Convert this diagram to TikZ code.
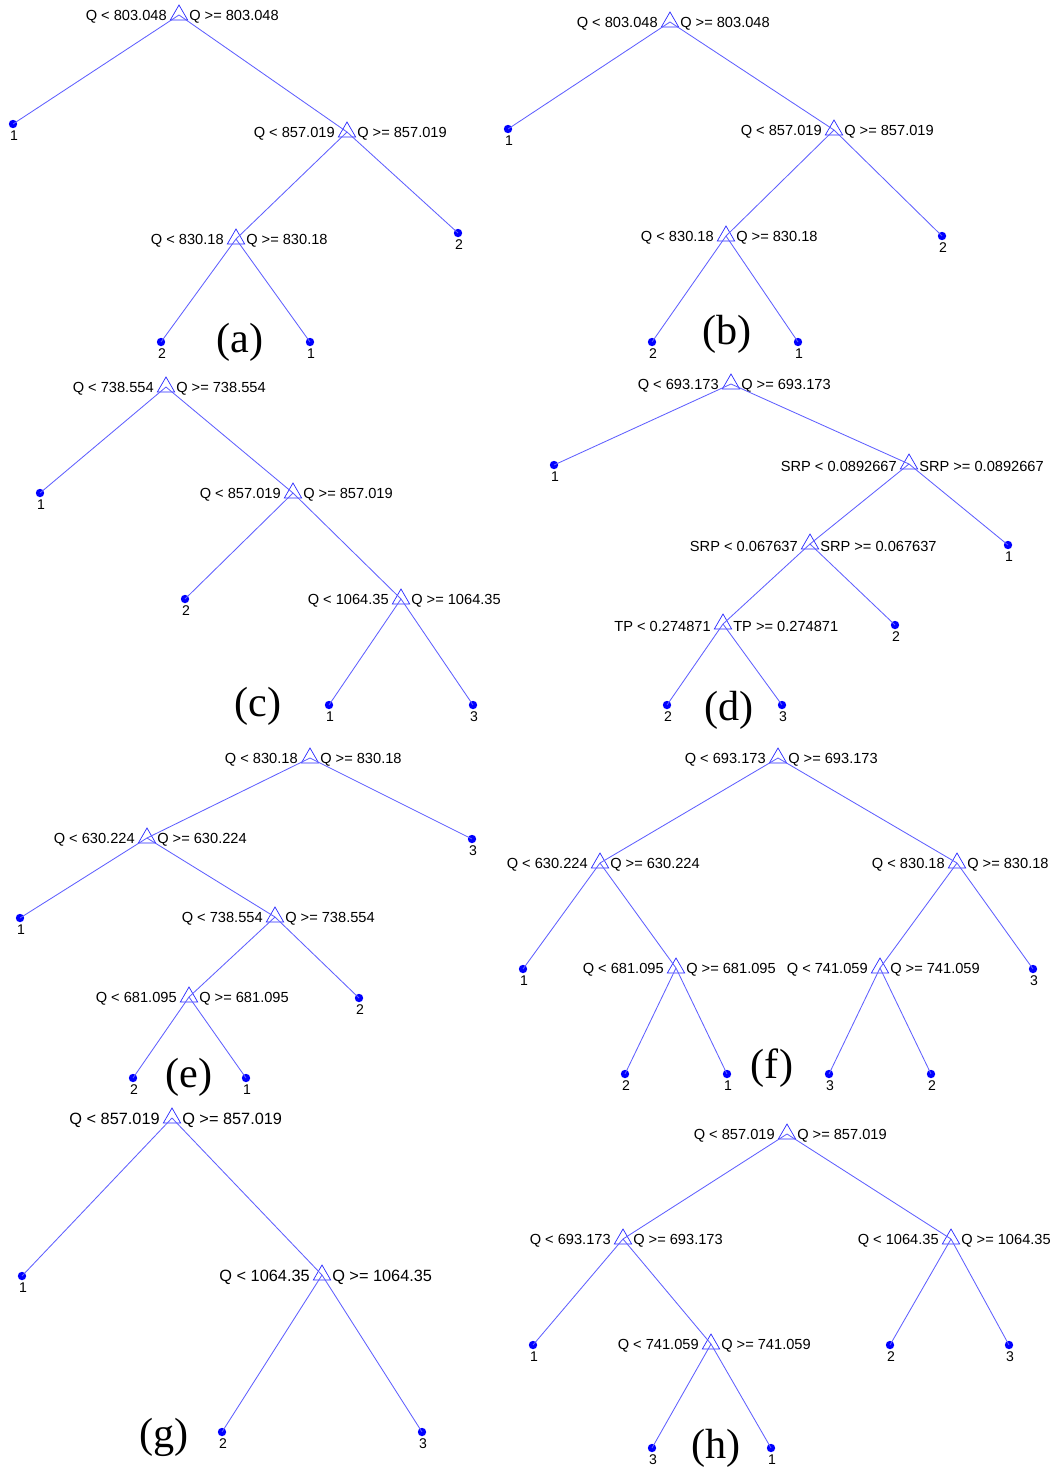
\documentclass[tikz,border=0pt]{standalone}
\usepackage{fontspec}
\setmainfont{Liberation Sans}
\newfontfamily\capfont{Liberation Serif}
\usetikzlibrary{shapes.geometric}
\definecolor{edgeblue}{RGB}{95,95,255}
\definecolor{markblue}{RGB}{40,40,255}

%split node with its two threshold labels
\newcommand{\splitnode}[4]{%
  \node[split] (#1) at #2 {};
  \path (#1.center)+(-12,2) node[ltlab] (#1-lt) {#3 < #4};
  \path (#1.center)+(10,2) node[gelab] (#1-ge) {#3 >= #4};
}
%leaf node with its class
\newcommand{\leafnode}[3]{%
  \node[leaf] (#1) at #2 {};
  \path (#1.center)+(1,12) node[classlab] (#1-cl) {#3};
}

\begin{document}
\begin{tikzpicture}[x=0.025cm,y=-0.025cm,
  labfont/.style={font=\fontsize{10.4}{12}\selectfont},
  split/.style={regular polygon, regular polygon sides=3, draw=markblue, line width=0.5pt, inner sep=0pt, minimum size=0.5cm},
  leaf/.style={circle, fill=blue, inner sep=0pt, minimum size=0.21cm},
  branch/.style={edgeblue, line width=0.6pt},
  ltlab/.style={labfont, anchor=east, inner sep=0pt},
  gelab/.style={labfont, anchor=west, inner sep=0pt},
  classlab/.style={font=\fontsize{10}{11}\selectfont, inner sep=0pt},
  caption/.style={font=\capfont\fontsize{30}{32}\selectfont, inner sep=0pt}]
  \useasboundingbox (0,0) rectangle (1054,1468);

  %(a)
  \splitnode{a0}{(179,15)}{Q}{803.048}
  \splitnode{a1}{(347,132)}{Q}{857.019}
  \splitnode{a2}{(236,239)}{Q}{830.18}
  \leafnode{a3}{(13,124)}{1}
  \leafnode{a4}{(458,233)}{2}
  \leafnode{a5}{(161,342)}{2}
  \leafnode{a6}{(310,342)}{1}
  \draw[branch] (a0.center) -- (a3.center) (a0.center) -- (a1.center);
  \draw[branch] (a1.center) -- (a2.center) (a1.center) -- (a4.center);
  \draw[branch] (a2.center) -- (a5.center) (a2.center) -- (a6.center);
  \node[caption] (capa) at (240,342) {(a)};

  %(b)
  \splitnode{b0}{(670,22)}{Q}{803.048}
  \splitnode{b1}{(834,130)}{Q}{857.019}
  \splitnode{b2}{(726,236)}{Q}{830.18}
  \leafnode{b3}{(508,129)}{1}
  \leafnode{b4}{(942,236)}{2}
  \leafnode{b5}{(652,342)}{2}
  \leafnode{b6}{(798,342)}{1}
  \draw[branch] (b0.center) -- (b3.center) (b0.center) -- (b1.center);
  \draw[branch] (b1.center) -- (b2.center) (b1.center) -- (b4.center);
  \draw[branch] (b2.center) -- (b5.center) (b2.center) -- (b6.center);
  \node[caption] (capb) at (727,334) {(b)};

  %(c)
  \splitnode{c0}{(166,387)}{Q}{738.554}
  \splitnode{c1}{(293,493)}{Q}{857.019}
  \splitnode{c2}{(401,599)}{Q}{1064.35}
  \leafnode{c3}{(40,493)}{1}
  \leafnode{c4}{(185,599)}{2}
  \leafnode{c5}{(329,705)}{1}
  \leafnode{c6}{(473,705)}{3}
  \draw[branch] (c0.center) -- (c3.center) (c0.center) -- (c1.center);
  \draw[branch] (c1.center) -- (c4.center) (c1.center) -- (c2.center);
  \draw[branch] (c2.center) -- (c5.center) (c2.center) -- (c6.center);
  \node[caption] (capc) at (258,706) {(c)};

  %(d)
  \splitnode{d0}{(731,384)}{Q}{693.173}
  \splitnode{d1}{(909,464)}{SRP}{0.0892667}
  \splitnode{d2}{(810,544)}{SRP}{0.067637}
  \splitnode{d3}{(723,624)}{TP}{0.274871}
  \leafnode{d4}{(554,465)}{1}
  \leafnode{d5}{(1008,545)}{1}
  \leafnode{d6}{(895,625)}{2}
  \leafnode{d7}{(667,705)}{2}
  \leafnode{d8}{(782,705)}{3}
  \draw[branch] (d0.center) -- (d4.center) (d0.center) -- (d1.center);
  \draw[branch] (d1.center) -- (d2.center) (d1.center) -- (d5.center);
  \draw[branch] (d2.center) -- (d3.center) (d2.center) -- (d6.center);
  \draw[branch] (d3.center) -- (d7.center) (d3.center) -- (d8.center);
  \node[caption] (capd) at (729,710) {(d)};

  %(e)
  \splitnode{e0}{(310,758)}{Q}{830.18}
  \splitnode{e1}{(147,838)}{Q}{630.224}
  \splitnode{e2}{(275,917)}{Q}{738.554}
  \splitnode{e3}{(189,997)}{Q}{681.095}
  \leafnode{e4}{(472,839)}{3}
  \leafnode{e5}{(20,918)}{1}
  \leafnode{e6}{(359,998)}{2}
  \leafnode{e7}{(133,1078)}{2}
  \leafnode{e8}{(246,1078)}{1}
  \draw[branch] (e0.center) -- (e1.center) (e0.center) -- (e4.center);
  \draw[branch] (e1.center) -- (e5.center) (e1.center) -- (e2.center);
  \draw[branch] (e2.center) -- (e3.center) (e2.center) -- (e6.center);
  \draw[branch] (e3.center) -- (e7.center) (e3.center) -- (e8.center);
  \node[caption] (cape) at (189,1077) {(e)};

  %(f)
  \splitnode{f0}{(778,758)}{Q}{693.173}
  \splitnode{f1}{(600,863)}{Q}{630.224}
  \splitnode{f2}{(957,863)}{Q}{830.18}
  \splitnode{f3}{(676,968)}{Q}{681.095}
  \splitnode{f4}{(880,968)}{Q}{741.059}
  \leafnode{f5}{(523,969)}{1}
  \leafnode{f6}{(1033,969)}{3}
  \leafnode{f7}{(625,1074)}{2}
  \leafnode{f8}{(727,1074)}{1}
  \leafnode{f9}{(829,1074)}{3}
  \leafnode{f10}{(931,1074)}{2}
  \draw[branch] (f0.center) -- (f1.center) (f0.center) -- (f2.center);
  \draw[branch] (f1.center) -- (f5.center) (f1.center) -- (f3.center);
  \draw[branch] (f2.center) -- (f4.center) (f2.center) -- (f6.center);
  \draw[branch] (f3.center) -- (f7.center) (f3.center) -- (f8.center);
  \draw[branch] (f4.center) -- (f9.center) (f4.center) -- (f10.center);
  \node[caption] (capf) at (772,1068) {(f)};

  %(g) slightly larger labels
  \begin{scope}[labfont/.style={font=\fontsize{11.6}{13}\selectfont}]
  \splitnode{g0}{(172,1118)}{Q}{857.019}
  \splitnode{g1}{(322,1275)}{Q}{1064.35}
  \leafnode{g2}{(22,1276)}{1}
  \leafnode{g3}{(222,1432)}{2}
  \leafnode{g4}{(422,1432)}{3}
  \end{scope}
  \draw[branch] (g0.center) -- (g2.center) (g0.center) -- (g1.center);
  \draw[branch] (g1.center) -- (g3.center) (g1.center) -- (g4.center);
  \node[caption] (capg) at (164,1437) {(g)};

  %(h)
  \splitnode{h0}{(787,1134)}{Q}{857.019}
  \splitnode{h1}{(623,1239)}{Q}{693.173}
  \splitnode{h2}{(951,1239)}{Q}{1064.35}
  \splitnode{h3}{(711,1344)}{Q}{741.059}
  \leafnode{h4}{(533,1345)}{1}
  \leafnode{h5}{(890,1345)}{2}
  \leafnode{h6}{(1009,1345)}{3}
  \leafnode{h7}{(652,1448)}{3}
  \leafnode{h8}{(771,1448)}{1}
  \draw[branch] (h0.center) -- (h1.center) (h0.center) -- (h2.center);
  \draw[branch] (h1.center) -- (h4.center) (h1.center) -- (h3.center);
  \draw[branch] (h2.center) -- (h5.center) (h2.center) -- (h6.center);
  \draw[branch] (h3.center) -- (h7.center) (h3.center) -- (h8.center);
  \node[caption] (caph) at (716,1448) {(h)};
\end{tikzpicture}
\end{document}
